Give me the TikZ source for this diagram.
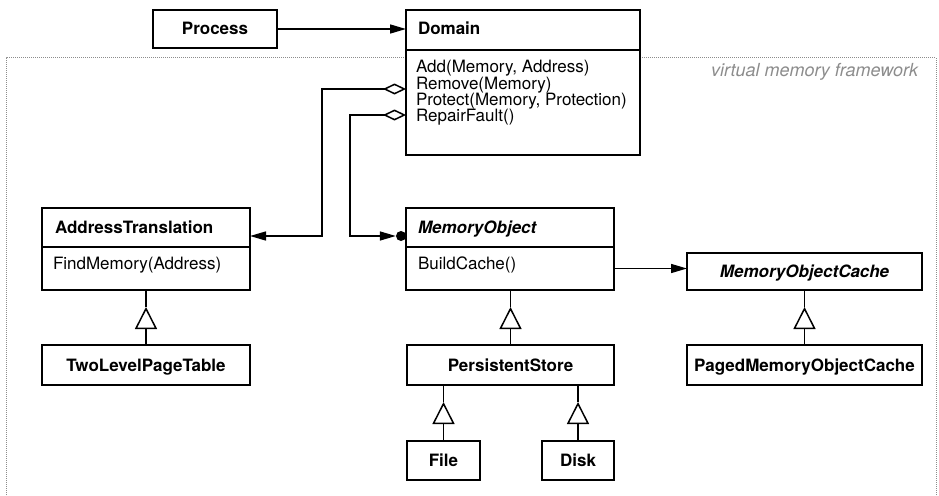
\documentclass[tikz,border=0pt]{standalone}
\usepackage{fontspec}
\setmainfont{TeX Gyre Heros}
\usetikzlibrary{arrows.meta,calc}
\newcommand\fsz{\fontsize{17}{17}\selectfont}
\newcommand\fszv{\fontsize{18}{18}\selectfont}
\begin{document}
\begin{tikzpicture}[x=1pt,y=-1pt,
  box/.style={draw, line width=1.7pt, inner sep=0pt, outer sep=0pt, anchor=north west},
  txt/.style={inner sep=0pt, outer sep=0pt, font=\fsz},
  conn/.style={line width=1.5pt},
  tipend/.style={conn, -{Triangle[length=16pt,width=9pt]}},
  inh/.style={conn, -{Triangle[open,length=22pt,width=22pt,line width=1.5pt]}},
  agg/.style={conn, {Diamond[open,length=23pt,width=11pt,line width=1.5pt]}-{Triangle[length=16pt,width=9pt]}},
  frame/.style={black!45, line width=1pt, densely dotted}
]
\useasboundingbox (0,0) rectangle (939,495);

% framework border
\draw[frame] (6,495) -- (6,58) -- (406,58);
\draw[frame] (640,58) -- (936,58) -- (936,495);
\node[txt, font=\fszv\itshape, text=black!45, anchor=base east] (vmf) at (918,77) {virtual memory framework};

% Process
\node[box, minimum width=124pt, minimum height=38pt] (proc) at (153,10) {};
\node[txt, anchor=base] (proct) at (215,35) {\bfseries Process};

% Domain
\node[box, minimum width=234pt, minimum height=40pt] (domh) at (406,10) {};
\node[box, minimum width=234pt, minimum height=105pt] (domb) at (406,50) {};
\node[txt, anchor=base west] (domt) at (418,35) {\bfseries Domain};
\node[txt, anchor=base west] (op1) at (416,73) {Add(Memory, Address)};
\node[txt, anchor=base west] (op2) at (416,89) {Remove(Memory)};
\node[txt, anchor=base west] (op3) at (416,105) {Protect(Memory, Protection)};
\node[txt, anchor=base west] (op4) at (416,121) {RepairFault()};

% AddressTranslation
\node[box, minimum width=208pt, minimum height=39pt] (ath) at (42,208) {};
\node[box, minimum width=208pt, minimum height=43pt] (atb) at (42,247) {};
\node[txt, anchor=base west] (att) at (55,233) {\bfseries AddressTranslation};
\node[txt, anchor=base west] (atop) at (53,269.5) {FindMemory(Address)};

% MemoryObject
\node[box, minimum width=208pt, minimum height=39pt] (moh) at (406,208) {};
\node[box, minimum width=208pt, minimum height=43pt] (mob) at (406,247) {};
\node[txt, anchor=base west] (mot) at (418,233) {\bfseries\itshape MemoryObject};
\node[txt, anchor=base west] (moop) at (418,269.5) {BuildCache()};

% MemoryObjectCache
\node[box, minimum width=235pt, minimum height=37pt] (moc) at (687,253) {};
\node[txt, anchor=base] (moct) at (804.5,277.5) {\bfseries\itshape MemoryObjectCache};

% TwoLevelPageTable
\node[box, minimum width=208pt, minimum height=40pt] (tlpt) at (42,345) {};
\node[txt, anchor=base] (tlptt) at (146,371) {\bfseries TwoLevelPageTable};

% PersistentStore
\node[box, minimum width=207pt, minimum height=40pt] (ps) at (407,345) {};
\node[txt, anchor=base] (pst) at (510.5,371) {\bfseries PersistentStore};

% PagedMemoryObjectCache
\node[box, minimum width=235pt, minimum height=40pt] (pmoc) at (687,345) {};
\node[txt, anchor=base] (pmoct) at (804.5,371) {\bfseries PagedMemoryObjectCache};

% File, Disk
\node[box, minimum width=73pt, minimum height=39pt] (file) at (407,441) {};
\node[txt, anchor=base] (filet) at (443.5,466.5) {\bfseries File};
\node[box, minimum width=72pt, minimum height=39pt] (disk) at (542,441) {};
\node[txt, anchor=base] (diskt) at (578,466.5) {\bfseries Disk};

% Process -> Domain
\draw[tipend] (proc.east) -- (proc.east -| domh.west);

% aggregations from Domain
\coordinate (a1) at (406,89);
\coordinate (a2) at (406,115);
\coordinate (atin) at ($(ath.south east)+(0,-11)$);
\node[circle, fill, inner sep=0pt, minimum size=10pt] (dot) at ($(moh.south west)+(-5,-11)$) {};
\draw[agg] (a1) -- (322,89) -- (322,236) -- (atin);
\draw[agg] (a2) -- (350,115) -- (350,236) -- (dot.west);

% MemoryObject -> MemoryObjectCache
\draw[tipend] (mob.east) -- (mob.east -| moc.west);

% inheritance
\draw[inh] (tlpt.north) -- ($(tlpt.north)+(0,-38)$);
\draw[conn] ($(tlpt.north)+(0,-38)$) -- (atb.south);
\draw[inh] (ps.north) -- ($(ps.north)+(0,-38)$);
\draw[conn] ($(ps.north)+(0,-38)$) -- (ps.north |- mob.south);
\draw[inh] (pmoc.north) -- ($(pmoc.north)+(0,-38)$);
\draw[conn] ($(pmoc.north)+(0,-38)$) -- (moc.south);
\draw[inh] (file.north) -- ($(file.north)+(0,-39)$);
\draw[conn] ($(file.north)+(0,-39)$) -- (file.north |- ps.south);
\draw[inh] (disk.north) -- ($(disk.north)+(0,-39)$);
\draw[conn] ($(disk.north)+(0,-39)$) -- (disk.north |- ps.south);
\end{tikzpicture}
\end{document}
